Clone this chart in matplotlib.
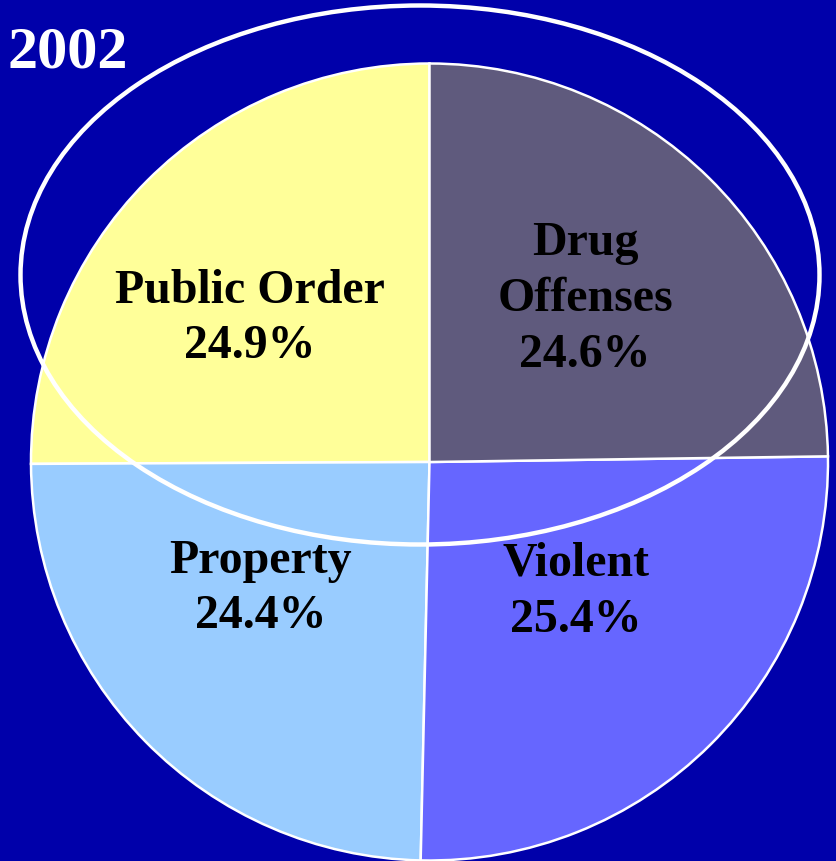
import matplotlib
matplotlib.use("Agg")
import matplotlib.pyplot as plt
from matplotlib.patches import Ellipse

# Données
categories = ["Public Order", "Property", "Violent", "Drug Offenses"]
parts = [24.9, 24.4, 25.4, 24.6]
etiquettes = [["Public Order", "24.9%"], ["Property", "24.4%"], ["Violent", "25.4%"], ["Drug", "Offenses", "24.6%"]]
couleurs = ["#FFFF99", "#99CCFF", "#6666FF", "#5F5A7D"]
annee = "2002"

W, H = 836, 862
fond = "#0000AA"

plt.rcParams["font.family"] = ["Liberation Serif", "DejaVu Serif"]
plt.rcParams["font.weight"] = "bold"

f = plt.figure(figsize=(W / 100, H / 100), dpi=100, facecolor=fond)
ax = f.add_axes([0, 0, 1, 1])
ax.set_facecolor(fond)

# camembert (centre et rayon en pixels de l'image)
ax.pie(parts, colors=couleurs, startangle=90, counterclock=True,
       center=(429.5, H - 463), radius=398.5,
       wedgeprops=dict(edgecolor="white", linewidth=1.8))
ax.set_xlim(0, W)
ax.set_ylim(0, H)
ax.set_aspect("equal")
ax.axis("off")

# texte des parts : (x centre, ligne de base de la 1re ligne, interligne)
positions = [(250, 303, 55), (261, 573, 55), (576, 575, 57), (585, 255, 56)]
for lignes, (x, y0, dy) in zip(etiquettes, positions):
    for i, txt in enumerate(lignes):
        ax.text(x, H - (y0 + i * dy), txt, ha="center", va="baseline",
                fontsize=34.5, fontweight="bold", color="black")

# ellipse blanche
ax.add_patch(Ellipse((420, H - 276), 799, 539, fill=False, edgecolor="white", linewidth=3.2))

ax.text(7, H - 67, annee, ha="left", va="baseline", fontsize=43.5,
        fontweight="bold", color="white")

plt.savefig("out.png", dpi=100, facecolor=fond)
plt.close(f)
